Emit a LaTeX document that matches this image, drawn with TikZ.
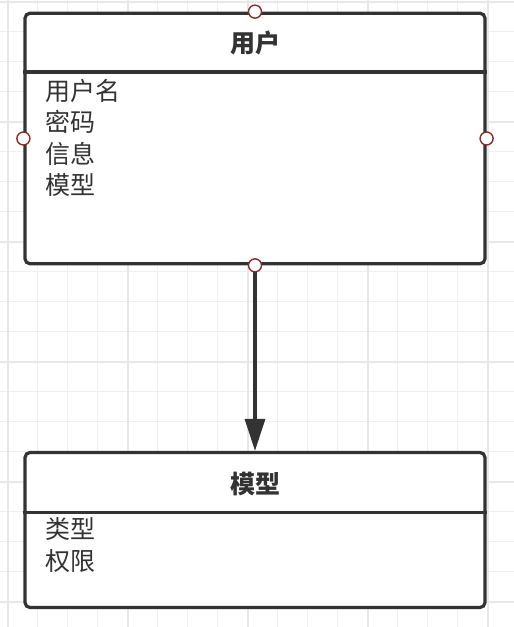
\documentclass[tikz,border=0pt]{standalone}
\usepackage{fontspec}
\newfontfamily\cjk{Noto Sans CJK SC}
\usetikzlibrary{arrows.meta}
\definecolor{ink}{HTML}{333333}
\definecolor{gridthin}{HTML}{F0F0F0}
\definecolor{gridthick}{HTML}{E8E8E8}
\definecolor{portred}{HTML}{8B2A2A}
\tikzset{
  classbox/.style={draw=ink, line width=3.2pt, rounded corners=5pt, fill=white, inner sep=0pt},
  titletext/.style={font=\cjk\bfseries\fontsize{25}{25}\selectfont, text=ink, inner sep=0pt},
  fieldtext/.style={font=\cjk\fontsize{25}{25}\selectfont, text=ink, inner sep=0pt, anchor=west},
  port/.style={circle, draw=portred, fill=white, line width=1.4pt, minimum size=13pt, inner sep=0pt},
  divider/.style={draw=ink, line width=3.2pt},
  link/.style={draw=ink, line width=3.2pt, -{Triangle[width=20pt,length=32pt]}}
}
\begin{document}
\begin{tikzpicture}[x=1pt,y=-1pt]
\useasboundingbox (0,0) rectangle (514,627);
\fill[white] (0,0) rectangle (514,627);
% grid
\foreach \k in {0,...,16} {
  \draw[gridthin, line width=1.2pt] (7.7+30*\k,0) -- (7.7+30*\k,627);
}
\foreach \k in {0,...,20} {
  \draw[gridthin, line width=1.2pt] (0,1.7+30*\k) -- (514,1.7+30*\k);
}
\foreach \k in {0,...,4} {
  \draw[gridthick, line width=1.6pt] (7.7+120*\k,0) -- (7.7+120*\k,627);
}
\foreach \k in {0,...,5} {
  \draw[gridthick, line width=1.6pt] (0,1.7+120*\k) -- (514,1.7+120*\k);
}
% class boxes
\node[classbox, minimum width=460pt, minimum height=250.5pt] (user) at (255,138.5) {};
\draw[divider] (user.west |- 0,72) -- (user.east |- 0,72);
\node[titletext] (usertitle) at (255,43) {用户};
\node[fieldtext] (f1) at (45,91) {用户名};
\node[fieldtext] (f2) at (45,122) {密码};
\node[fieldtext] (f3) at (45,153.5) {信息};
\node[fieldtext] (f4) at (45,185) {模型};

\node[classbox, minimum width=460pt, minimum height=155pt] (model) at (255,530) {};
\draw[divider] (model.west |- 0,512.5) -- (model.east |- 0,512.5);
\node[titletext] (modeltitle) at (255,484) {模型};
\node[fieldtext] (g1) at (45,529.5) {类型};
\node[fieldtext] (g2) at (45,561) {权限};

% connector
\draw[link] (user.south) -- (model.north);

% ports
\node[port] (pn) at (user.north) {};
\node[port] (pw) at (user.west) {};
\node[port] (pe) at (user.east) {};
\node[port] (ps) at (user.south) {};
\end{tikzpicture}
\end{document}
